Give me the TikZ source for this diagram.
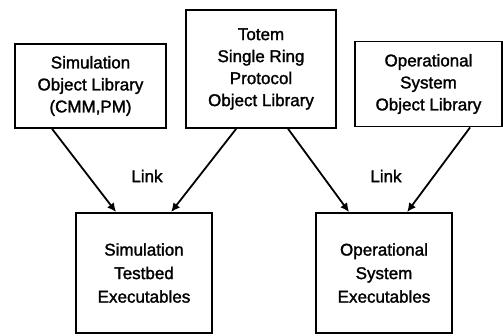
\documentclass[tikz,border=0pt]{standalone}
\usepackage{fontspec}
\setmainfont[FakeBold=1.6]{Liberation Sans}
\usetikzlibrary{calc,arrows.meta}
\begin{document}
\begin{tikzpicture}[x=1pt,y=-1pt,
  box/.style={draw,line width=1.8pt,rectangle,inner sep=0pt,align=center,
    font=\fontsize{17}{22}\selectfont},
  lowbox/.style={box,font=\fontsize{17}{23.5}\selectfont},
  link/.style={line width=1.8pt,-{Latex[length=9pt,width=8.5pt]}},
  lbl/.style={font=\fontsize{17}{20}\selectfont}]
\useasboundingbox (0,0) rectangle (503,335);
% object libraries
\node[box,minimum width=151pt,minimum height=84pt] (simlib) at (90.5,86)
  {Simulation\\Object Library\\(CMM,PM)};
\node[box,minimum width=150pt,minimum height=118pt] (totem) at (261,69)
  {Totem\\Single Ring\\Protocol\\Object Library};
\node[box,minimum width=147pt,minimum height=85pt] (oplib) at (428.5,84)
  {Operational\\System\\Object Library};
% executables
\node[lowbox,minimum width=136pt,minimum height=120pt] (simexe) at (144,273)
  {Simulation\\Testbed\\Executables};
\node[lowbox,minimum width=136pt,minimum height=120pt] (opexe) at (384,273)
  {Operational\\System\\Executables};
% link arrows
\draw[link] ($(simlib.south west)+(38,0)$) -- ($(simexe.north west)+(41,0)$);
\draw[link] ($(totem.south west)+(51,0)$) -- ($(simexe.north west)+(96,0)$);
\draw[link] ($(totem.south west)+(103,0)$) -- ($(opexe.north west)+(34,0)$);
\draw[link] ($(oplib.south west)+(116,0)$) -- ($(opexe.north west)+(92,0)$);
\node[lbl] (link1) at (147,176) {Link};
\node[lbl] (link2) at (386,176) {Link};
\end{tikzpicture}
\end{document}
